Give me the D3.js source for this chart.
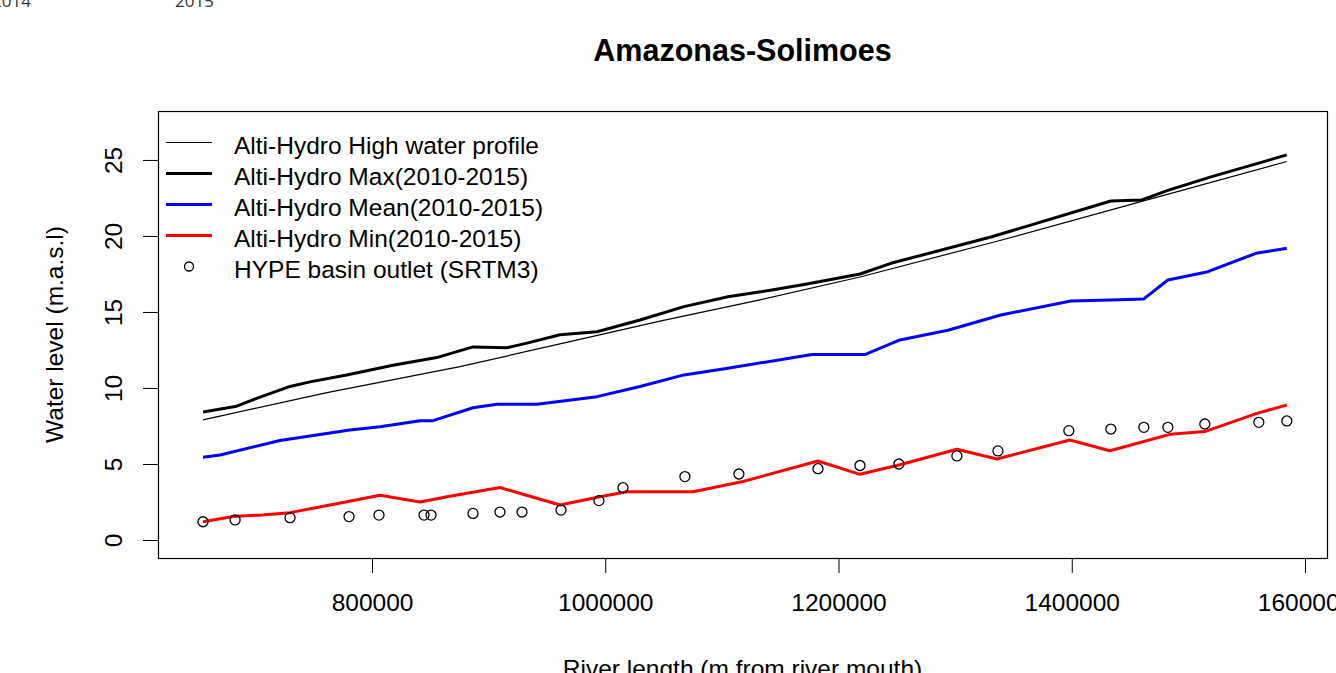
<!DOCTYPE html>
<html>
<head>
<meta charset="utf-8">
<script src="https://cdn.jsdelivr.net/npm/d3@7"></script>
<style>
  body { margin: 0; background: #fff; }
  svg { display: block; font-family: "Liberation Sans", Arial, sans-serif; }
</style>
</head>
<body>
<div id="c_plot"></div>
<script>
// river length (m from mouth) and water level (m.a.s.l)
var highDist  = [655100, 761400, 875400, 989500, 1046900, 1132600, 1218400, 1338400, 1460100, 1584400];
var highLevel = [7.9, 9.7, 11.4, 13.4, 14.4, 15.8, 17.3, 19.7, 22.27, 24.9];

var maxDist  = [655100, 684000, 704000, 729700, 746800, 778300, 818000, 855500, 886600, 915700, 932900, 961200, 992900,
                1029800, 1067500, 1105200, 1142900, 1172900, 1218400, 1244900, 1331500, 1433500, 1460100, 1482400, 1520100, 1584400];
var maxLevel = [8.42, 8.8, 9.4, 10.1, 10.4, 10.85, 11.5, 12.0, 12.7, 12.65, 12.95, 13.5, 13.7,
                14.47, 15.35, 16.0, 16.45, 16.84, 17.5, 18.2, 19.95, 22.3, 22.37, 23.0, 23.9, 25.33];

var meanDist  = [655100, 669700, 721100, 781100, 806900, 841200, 852300, 886600, 907200, 941500, 992900, 1029800, 1067500,
                 1105200, 1177200, 1222600, 1252600, 1293800, 1339200, 1399200, 1433500, 1461800, 1482400, 1516700, 1557900, 1584400];
var meanLevel = [5.44, 5.59, 6.55, 7.24, 7.45, 7.85, 7.85, 8.7, 8.93, 8.93, 9.43, 10.1, 10.86,
                 11.3, 12.2, 12.2, 13.16, 13.8, 14.8, 15.72, 15.79, 15.86, 17.1, 17.65, 18.86, 19.19];

var minDist  = [655100, 680800, 705700, 729700, 764000, 806900, 841200, 864300, 909700, 961200, 995500, 1018600, 1075200,
                1118100, 1182400, 1218400, 1252600, 1301500, 1335800, 1398400, 1432700, 1484100, 1514100, 1558700, 1584400];
var minLevel = [1.2, 1.55, 1.65, 1.8, 2.3, 2.95, 2.5, 2.85, 3.45, 2.3, 2.85, 3.18, 3.18,
                3.85, 5.2, 4.32, 4.95, 5.97, 5.33, 6.58, 5.87, 6.95, 7.13, 8.33, 8.88];

var hypeDist  = [655100, 682600, 729700, 780300, 806000, 844600, 850600, 886600, 909700, 928600, 962000, 994600, 1015200, 1068300,
                 1114600, 1182400, 1218400, 1251800, 1301500, 1336700, 1397500, 1433500, 1461800, 1482400, 1514100, 1560400, 1584400];
var hypeLevel = [1.2, 1.32, 1.47, 1.54, 1.64, 1.64, 1.64, 1.75, 1.84, 1.84, 1.97, 2.59, 3.44, 4.17,
                 4.34, 4.69, 4.9, 5.0, 5.53, 5.86, 7.19, 7.3, 7.41, 7.41, 7.63, 7.74, 7.83];

var xTicks = [800000, 1000000, 1200000, 1400000, 1600000];
var yTicks = [0, 5, 10, 15, 20, 25];

var legendLabels = ["Alti-Hydro High water profile", "Alti-Hydro Max(2010-2015)", "Alti-Hydro Mean(2010-2015)",
                    "Alti-Hydro Min(2010-2015)", "HYPE basin outlet (SRTM3)"];

var W = 1336, H = 673;
var box = {left: 158, top: 111, right: 1327, bottom: 558};
var fs = "24.5px";

var svg = d3.select("#c_plot")
  .append("svg")
  .attr("width", W)
  .attr("height", H);

// cut-off labels of the chart above
svg.append("text").attr("x", 31).attr("y", 7).attr("text-anchor", "end")
  .style("font-family", "'Open Sans', sans-serif").style("font-size", "17px").attr("fill", "#333").text("2014");
svg.append("text").attr("x", 175).attr("y", 7)
  .style("font-family", "'Open Sans', sans-serif").style("font-size", "17px").attr("fill", "#333").text("2015");

var x = d3.scaleLinear().domain([616500, 1618860]).range([box.left, box.right]);
var y = d3.scaleLinear().domain([-1.184, 28.22]).range([box.bottom, box.top]);

function zip(xs, ys)
{
  var pts = [];
  for(var i=0; i<xs.length; i++) pts.push([xs[i], ys[i]]);
  return pts;
}

var line = d3.line()
  .x(d => x(d[0]))
  .y(d => y(d[1]));

// title
svg.append("text")
  .attr("x", (box.left + box.right) / 2)
  .attr("y", 61)
  .attr("text-anchor", "middle")
  .style("font-size", "30.5px")
  .style("font-weight", "bold")
  .text("Amazonas-Solimoes");

// x axis
var xAxis = svg.append("g")
  .attr("transform", "translate(0," + box.bottom + ")")
  .call(d3.axisBottom(x).tickValues(xTicks).tickSize(15).tickPadding(21).tickFormat(d3.format("d")));
xAxis.select(".domain").remove();
xAxis.selectAll("text").style("font-size", fs).attr("fill", "#000").attr("dy", "0.71em");

// y axis
var yAxis = svg.append("g")
  .attr("transform", "translate(" + box.left + ",0)")
  .call(d3.axisLeft(y).tickValues(yTicks).tickSize(15));
yAxis.select(".domain").remove();
yAxis.selectAll("text")
  .style("font-size", fs)
  .attr("fill", "#000")
  .attr("x", null).attr("dy", null)
  .attr("text-anchor", "middle")
  .attr("transform", "translate(-36,0) rotate(-90)");

// axis titles
svg.append("text")
  .attr("x", (box.left + box.right) / 2)
  .attr("y", 677)
  .attr("text-anchor", "middle")
  .style("font-size", fs)
  .text("River length (m from river mouth)");

svg.append("text")
  .attr("transform", "translate(63," + ((box.top + box.bottom) / 2) + ") rotate(-90)")
  .attr("text-anchor", "middle")
  .style("font-size", fs)
  .text("Water level (m.a.s.l)");

// plot box
svg.append("rect")
  .attr("x", box.left + 0.5).attr("y", box.top + 0.5)
  .attr("width", box.right - box.left).attr("height", box.bottom - box.top)
  .attr("fill", "none").attr("stroke", "#000").attr("stroke-width", 1.2);

// series
var series = [
  {pts: zip(highDist, highLevel), color: "#000", width: 1.2},
  {pts: zip(maxDist, maxLevel), color: "#000", width: 3},
  {pts: zip(meanDist, meanLevel), color: "#0000ff", width: 3},
  {pts: zip(minDist, minLevel), color: "#ff0000", width: 3}
];

for(var i=0; i<series.length; i++)
{
  svg.append("path")
    .attr("d", line(series[i].pts))
    .attr("stroke", series[i].color)
    .attr("stroke-width", series[i].width)
    .attr("stroke-linejoin", "round")
    .attr("fill", "none");
}

svg.selectAll("circle.hype")
  .data(zip(hypeDist, hypeLevel))
  .enter()
  .append("circle")
  .attr("class", "hype")
  .attr("cx", d => x(d[0]))
  .attr("cy", d => y(d[1]))
  .attr("r", 5)
  .attr("fill", "none")
  .attr("stroke", "#000")
  .attr("stroke-width", 1.3);

// legend (no frame)
var legendY = 142.5, legendStep = 31;
for(var i=0; i<legendLabels.length; i++)
{
  var ly = legendY + i * legendStep;
  if(i < series.length)
  {
    svg.append("line")
      .attr("x1", 166).attr("x2", 212)
      .attr("y1", ly).attr("y2", ly)
      .attr("stroke", series[i].color)
      .attr("stroke-width", series[i].width);
  }
  else
  {
    svg.append("circle")
      .attr("cx", 189).attr("cy", ly)
      .attr("r", 4.5)
      .attr("fill", "none")
      .attr("stroke", "#000")
      .attr("stroke-width", 1.3);
  }
  svg.append("text")
    .attr("x", 234)
    .attr("y", ly + 11)
    .style("font-size", fs)
    .text(legendLabels[i]);
}
</script>
</body>
</html>
